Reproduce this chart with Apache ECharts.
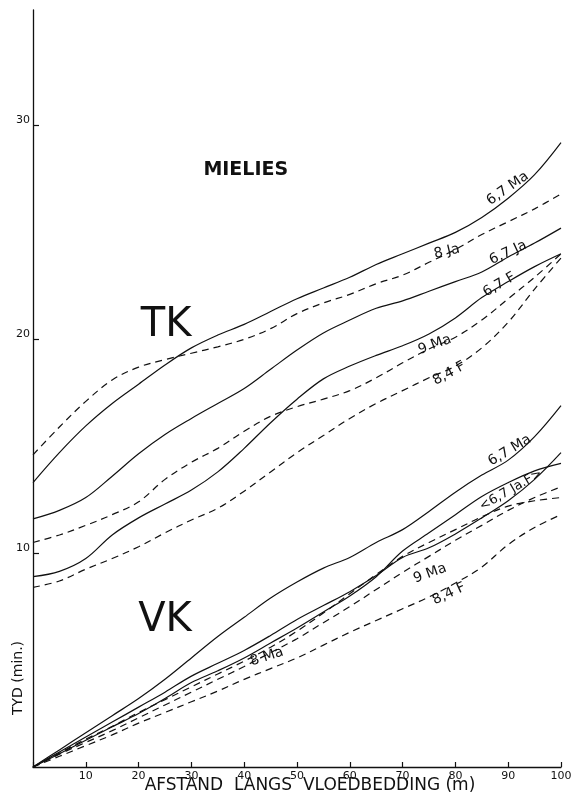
<!DOCTYPE html>
<html>
<head>
<meta charset="utf-8">
<script src="https://cdn.jsdelivr.net/npm/echarts@6/dist/echarts.min.js"></script>
<style>
  html, body { margin: 0; padding: 0; background: #ffffff; }
  #chart { width: 585px; height: 800px; }
</style>
</head>
<body>
<div id="chart"></div>
<script>
// Distance along the flood bed (m)
const distance = [0, 5, 10, 15, 20, 25, 30, 35, 40, 45, 50, 55, 60, 65, 70, 75, 80, 85, 90, 95, 100];

// TK – advance times (min)
const tk67Ma = [13.3, 14.7, 15.95, 17.0, 17.9, 18.8, 19.6, 20.2, 20.7, 21.3, 21.9, 22.4, 22.9, 23.5, 24.0, 24.5, 25.0, 25.7, 26.6, 27.7, 29.2];
const tk8Ja  = [14.6, 15.9, 17.1, 18.1, 18.7, 19.05, 19.35, 19.65, 20.0, 20.5, 21.2, 21.7, 22.1, 22.6, 23.0, 23.6, 24.2, 24.9, 25.5, 26.1, 26.8];
const tk67Ja = [11.6, 12.0, 12.6, 13.6, 14.65, 15.55, 16.3, 17.0, 17.7, 18.6, 19.5, 20.3, 20.9, 21.45, 21.8, 22.25, 22.7, 23.15, 23.85, 24.5, 25.2];
const tk9Ma  = [10.5, 10.85, 11.3, 11.8, 12.4, 13.45, 14.25, 14.9, 15.7, 16.4, 16.85, 17.2, 17.6, 18.2, 18.9, 19.55, 20.1, 20.9, 21.9, 22.9, 24.0];
const tk67F  = [8.9, 9.15, 9.75, 10.85, 11.65, 12.3, 12.95, 13.8, 14.9, 16.1, 17.2, 18.15, 18.75, 19.25, 19.7, 20.25, 21.0, 21.95, 22.7, 23.4, 24.0];
const tk84F  = [8.4, 8.7, 9.25, 9.75, 10.3, 10.95, 11.55, 12.1, 12.9, 13.8, 14.7, 15.5, 16.3, 17.0, 17.6, 18.2, 18.75, 19.6, 20.8, 22.35, 23.8];

// VK – advance times (min)
const vk67Ma = [0, 0.8, 1.6, 2.4, 3.2, 4.1, 5.1, 6.1, 7.0, 7.9, 8.65, 9.3, 9.8, 10.5, 11.1, 11.95, 12.85, 13.65, 14.35, 15.45, 16.9];
const vk67F  = [0, 0.7, 1.4, 2.1, 2.8, 3.5, 4.25, 4.85, 5.45, 6.15, 6.9, 7.55, 8.2, 8.95, 9.8, 10.25, 10.9, 11.65, 12.45, 13.45, 14.7];
const vk67Ja = [0, 0.62, 1.25, 1.88, 2.5, 3.2, 3.95, 4.5, 5.1, 5.8, 6.5, 7.25, 8.0, 8.9, 10.1, 10.95, 11.8, 12.65, 13.3, 13.85, 14.2];
const vk9Ma  = [0, 0.6, 1.15, 1.7, 2.3, 2.9, 3.5, 4.1, 4.7, 5.35, 6.0, 6.75, 7.5, 8.3, 9.1, 9.85, 10.6, 11.3, 12.0, 12.6, 13.1];
const vk8Ma  = [0, 0.65, 1.3, 1.9, 2.55, 3.15, 3.75, 4.35, 4.95, 5.6, 6.35, 7.2, 8.1, 9.0, 9.85, 10.5, 11.1, 11.7, 12.2, 12.45, 12.6];
const vk84F  = [0, 0.5, 1.0, 1.5, 2.05, 2.55, 3.05, 3.55, 4.1, 4.6, 5.1, 5.7, 6.3, 6.85, 7.4, 7.95, 8.6, 9.35, 10.4, 11.2, 11.8];

// Axis tick values
const xTickLabels = [10, 20, 30, 40, 50, 60, 70, 80, 90, 100];
const yTickLabels = [10, 20, 30];

const curves = [
  { name: 'TK 6,7 Ma', values: tk67Ma, dashed: false },
  { name: 'TK 8 Ja',   values: tk8Ja,  dashed: true  },
  { name: 'TK 6,7 Ja', values: tk67Ja, dashed: false },
  { name: 'TK 9 Ma',   values: tk9Ma,  dashed: true  },
  { name: 'TK 6,7 F',  values: tk67F,  dashed: false },
  { name: 'TK 8,4 F',  values: tk84F,  dashed: true  },
  { name: 'VK 6,7 Ma', values: vk67Ma, dashed: false },
  { name: 'VK 6,7 F',  values: vk67F,  dashed: false },
  { name: 'VK 6,7 Ja', values: vk67Ja, dashed: false },
  { name: 'VK 9 Ma',   values: vk9Ma,  dashed: true  },
  { name: 'VK 8 Ma',   values: vk8Ma,  dashed: true  },
  { name: 'VK 8,4 F',  values: vk84F,  dashed: true  }
];

// Curve labels, anchored in data coordinates (distance, time), angle in degrees
const notes = [
  { text: 'MIELIES', at: [40.3, 27.9], angle: 0, size: 19, weight: 'bold' },
  { text: 'TK', at: [25.2, 20.65], angle: 0, size: 40 },
  { text: 'VK', at: [25.0, 6.85], angle: 0, size: 40 },
  { text: '6,7 Ma', at: [89.9, 27.05], angle: 35, size: 14 },
  { text: '8 Ja', at: [78.4, 24.1], angle: 13, size: 14 },
  { text: '6,7 Ja', at: [90.0, 24.05], angle: 25, size: 14 },
  { text: '6,7 F', at: [88.3, 22.55], angle: 30, size: 14 },
  { text: '9 Ma', at: [76.1, 19.75], angle: 20, size: 14 },
  { text: '8,4 F', at: [78.8, 18.4], angle: 28, size: 14 },
  { text: '6,7 Ma', at: [90.3, 14.8], angle: 31, size: 14 },
  { text: '<6,7 Ja.F>', at: [90.5, 12.95], angle: 30, size: 13 },
  { text: '9 Ma', at: [75.2, 9.05], angle: 20, size: 14 },
  { text: '8,4 F', at: [78.8, 8.1], angle: 25, size: 14 },
  { text: '8 Ma', at: [44.3, 5.15], angle: 18, size: 14 }
];

const INK = '#111111';
const chart = echarts.init(document.getElementById('chart'), null, { renderer: 'canvas' });

const series = curves.map(c => ({
  name: c.name,
  type: 'line',
  data: distance.map((x, i) => [x, c.values[i]]),
  smooth: 0.35,
  symbol: 'none',
  silent: true,
  lineStyle: { color: INK, width: 1.2, type: c.dashed ? [7, 5] : 'solid' }
}));

chart.setOption({
  animation: false,
  backgroundColor: '#ffffff',
  grid: { left: 33, right: 24, top: 10, bottom: 33 },
  xAxis: {
    type: 'value',
    min: 0,
    max: 100,
    interval: 10,
    axisLine: { lineStyle: { color: INK, width: 1.3 } },
    axisTick: { inside: true, length: 5, lineStyle: { color: INK, width: 1.2 } },
    axisLabel: {
      customValues: xTickLabels,
      color: INK, fontSize: 11, fontFamily: 'DejaVu Sans', margin: 4
    },
    splitLine: { show: false }
  },
  yAxis: {
    type: 'value',
    min: 0,
    max: 35.4,
    interval: 10,
    axisLine: { show: true, lineStyle: { color: INK, width: 1.3 } },
    axisTick: { show: true, inside: true, length: 6, customValues: yTickLabels, lineStyle: { color: INK, width: 1.2 } },
    axisLabel: {
      customValues: yTickLabels,
      color: INK, fontSize: 11, fontFamily: 'DejaVu Sans', margin: 3, verticalAlign: 'bottom'
    },
    splitLine: { show: false }
  },
  series: series
});

// Axis titles and curve labels
const graphics = [
  {
    type: 'text', x: 18, y: 678, rotation: Math.PI / 2,
    style: { text: 'TYD (min.)', fill: INK, fontSize: 14, fontFamily: 'DejaVu Sans', align: 'center', verticalAlign: 'middle' }
  },
  {
    type: 'text', x: 310, y: 786,
    style: { text: 'AFSTAND  LANGS  VLOEDBEDDING (m)', fill: INK, fontSize: 17, fontFamily: 'DejaVu Sans', align: 'center', verticalAlign: 'middle' }
  }
];
notes.forEach(n => {
  const p = chart.convertToPixel({ gridIndex: 0 }, n.at);
  graphics.push({
    type: 'text',
    x: p[0], y: p[1],
    rotation: n.angle * Math.PI / 180,
    style: {
      text: n.text, fill: INK,
      fontSize: n.size, fontWeight: n.weight || 'normal',
      fontFamily: 'DejaVu Sans',
      align: 'center', verticalAlign: 'middle'
    }
  });
});
chart.setOption({ graphic: graphics });
</script>
</body>
</html>
